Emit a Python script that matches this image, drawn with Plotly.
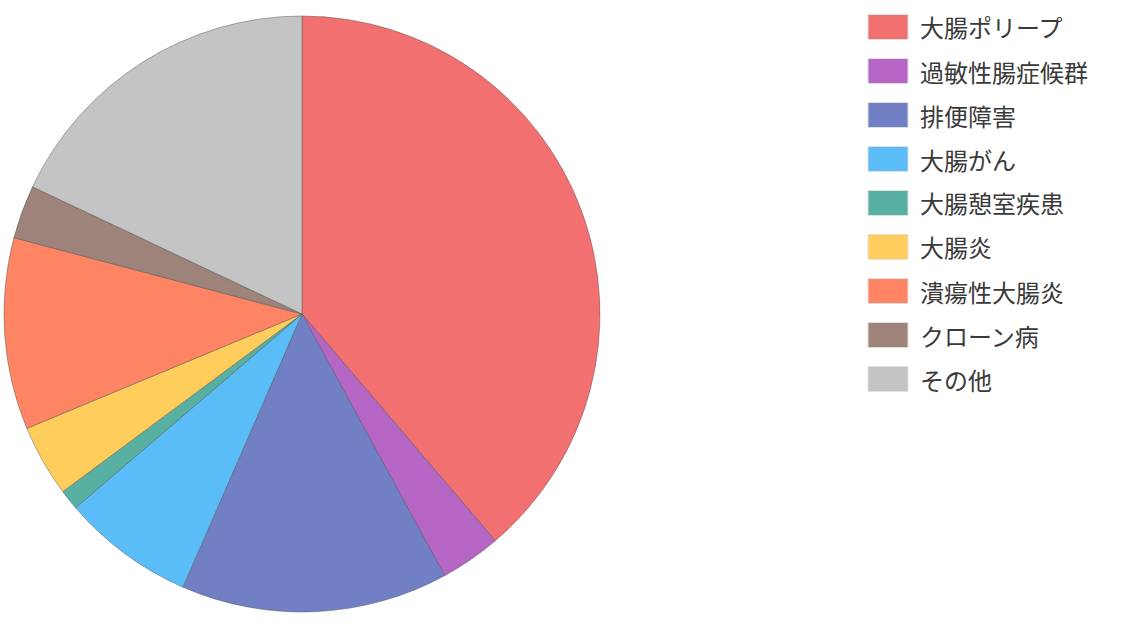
import plotly.graph_objects as go

labels = ["大腸ポリープ", "過敏性腸症候群", "排便障害", "大腸がん", "大腸憩室疾患",
          "大腸炎", "潰瘍性大腸炎", "クローン病", "その他"]
values = [38.8, 3.3, 14.5, 7.2, 1.1, 3.9, 10.4, 2.9, 18.0]
colors = ["#F27070", "#B565C4", "#7180C4", "#5BBDF7", "#58B0A3",
          "#FFCD5C", "#FF8463", "#9D8379", "#C4C4C4"]

W, H = 1121, 630
fig = go.Figure()
fig.add_trace(go.Pie(
    labels=labels, values=values, sort=False, direction="clockwise", rotation=0,
    marker=dict(colors=colors, line=dict(color="rgba(80,80,80,0.45)", width=1)),
    textinfo="none", hoverinfo="label+percent", showlegend=False,
    domain=dict(x=[4 / W, 600 / W], y=[1 - 612 / H, 1 - 16 / H]),
))

shapes = []
annotations = []
for i, (lab, col) in enumerate(zip(labels, colors)):
    yc = 27 + 44 * i
    shapes.append(dict(type="rect", xref="paper", yref="paper",
                       x0=868 / W, x1=908 / W, y0=1 - (yc + 12.5) / H, y1=1 - (yc - 12.5) / H,
                       fillcolor=col, line=dict(color="#E0E0E0", width=1)))
    annotations.append(dict(xref="paper", yref="paper", x=918 / W, y=1 - yc / H,
                            xanchor="left", yanchor="middle", showarrow=False, text=lab,
                            font=dict(family="Noto Sans CJK JP", size=24, color="#3a3a3a")))

fig.update_layout(width=W, height=H, margin=dict(l=0, r=0, t=0, b=0),
                  paper_bgcolor="white", plot_bgcolor="white",
                  shapes=shapes, annotations=annotations,
                  font=dict(family="Noto Sans CJK JP"))
fig.write_html("out.html", config={"displayModeBar": False},
               post_script="document.body.style.margin='0';document.body.style.overflow='hidden';")
